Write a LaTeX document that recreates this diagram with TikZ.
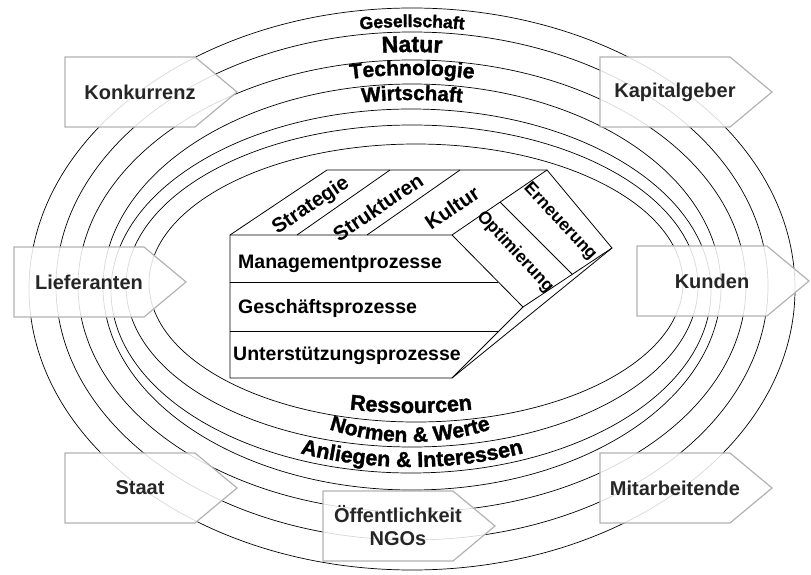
\documentclass[tikz,border=0pt]{standalone}
\usepackage{fontspec}
\setmainfont{Liberation Sans}
\newfontfamily\artfont{Liberation Sans}[BoldFeatures={FakeBold=1.5}]
\usetikzlibrary{decorations.text}

\tikzset{
  ring/.style={line width=0.7pt},
  partner/.style={draw=black!30, line width=1.2pt, fill=white, fill opacity=0.85},
  partnertext/.style={font=\bfseries\fontsize{20}{23}\selectfont, text=black!85, align=center},
  cube/.style={line width=0.8pt},
  rowtext/.style={anchor=base west, inner sep=0pt, font=\bfseries\fontsize{19.5}{22}\selectfont},
  facetext/.style={inner sep=0pt, rotate=34, font=\bfseries\fontsize{20.5}{22}\selectfont},
  sidetext/.style={inner sep=0pt, rotate=-47, font=\bfseries\fontsize{17.5}{20}\selectfont},
}

\begin{document}
\begin{tikzpicture}[x=1pt, y=-1pt]
  \useasboundingbox (0,0) rectangle (811,575);

  \foreach \cx/\cy/\rx/\ry in {412/289/383/281, 412/286/356/254, 412/286/334/226, 412/287/309/203,
      411/291/300/182, 412/286/286/161, 416/283/267/139}
    \draw[ring] (\cx,\cy) ellipse [x radius=\rx, y radius=\ry];

  \path[decorate, decoration={text along path, text align=center,
      text={|\artfont\bfseries\fontsize{17.5}{18}\selectfont|Gesellschaft}}]
    (412,287) ++(240:369 and 260) arc [start angle=240, end angle=300, x radius=369, y radius=260];
  \path[decorate, decoration={text along path, text align=center,
      text={|\artfont\bfseries\fontsize{23}{26}\selectfont|Natur}}]
    (412,287) ++(240:345 and 235) arc [start angle=240, end angle=300, x radius=345, y radius=235];
  \path[decorate, decoration={text along path, text align=center,
      text={|\artfont\bfseries\fontsize{21}{24}\selectfont|Technologie}}]
    (412,287) ++(240:321 and 212) arc [start angle=240, end angle=300, x radius=321, y radius=212];
  \path[decorate, decoration={text along path, text align=center,
      text={|\artfont\bfseries\fontsize{20.5}{24}\selectfont|Wirtschaft}}]
    (412,287) ++(240:304 and 187) arc [start angle=240, end angle=300, x radius=304, y radius=187];

  \path[decorate, decoration={text along path, text align=center,
      text={|\artfont\bfseries\fontsize{21.5}{24}\selectfont|Ressourcen}}]
    (411,280) ++(125:265 and 133) arc [start angle=125, end angle=55, x radius=265, y radius=133];
  \path[decorate, decoration={text along path, text align=center,
      text={|\artfont\bfseries\fontsize{21}{24}\selectfont|Normen {\&} Werte}}]
    (410,292) ++(135:200 and 150) arc [start angle=135, end angle=45, x radius=200, y radius=150];
  \path[decorate, decoration={text along path, text align=center,
      text={|\artfont\bfseries\fontsize{21.5}{24}\selectfont|Anliegen {\&} Interessen}}]
    (412,317) ++(130:266 and 150) arc [start angle=130, end angle=50, x radius=266, y radius=150];

  \draw[cube, fill=white] (230,235) -- (327,170) -- (547,170) -- (612,248) -- (452,378) -- (230,378) -- cycle;
  \draw[cube] (230,235) -- (452,235) -- (523,307) -- (452,378);
  \draw[cube] (452,235) -- (547,170);
  \draw[cube] (523,307) -- (612,248);
  \draw[cube] (297,235) -- (390,170) (367,235) -- (460,170);
  \draw[cube] (230,282) -- (498,282) (230,331) -- (499,331);
  \draw[cube] (500,202) -- (572,274);

  \node[facetext] (strategie) at (311,206) {Strategie};
  \node[facetext] (strukturen) at (378,207) {Strukturen};
  \node[facetext] (kultur) at (452,208) {Kultur};
  \node[sidetext] (optimierung) at (515,252) {Optimierung};
  \node[sidetext] (erneuerung) at (560,222) {Erneuerung};
  \node[rowtext] (management) at (238,268) {Managementprozesse};
  \node[rowtext] (geschaeft) at (238,313) {Geschäftsprozesse};
  \node[rowtext] (support) at (233,360) {Unterstützungsprozesse};

  \foreach \x/\y/\name/\txt in {65/57/konkurrenz/Konkurrenz, 600/57/kapital/Kapitalgeber,
      14/247/lieferanten/Lieferanten, 637/246/kunden/Kunden, 65/453/staat/Staat,
      600/453/mitarbeitende/Mitarbeitende, 323/491/oeffentlichkeit/{Öffentlichkeit\\NGOs}} {
    \draw[partner] (\x,\y) -- ++(130,0) -- ++(42,35) -- ++(-42,35) -- ++(-130,0) -- cycle;
    \node[partnertext] (\name) at (\x+75,\y+35) {\txt};
  }
\end{tikzpicture}
\end{document}
